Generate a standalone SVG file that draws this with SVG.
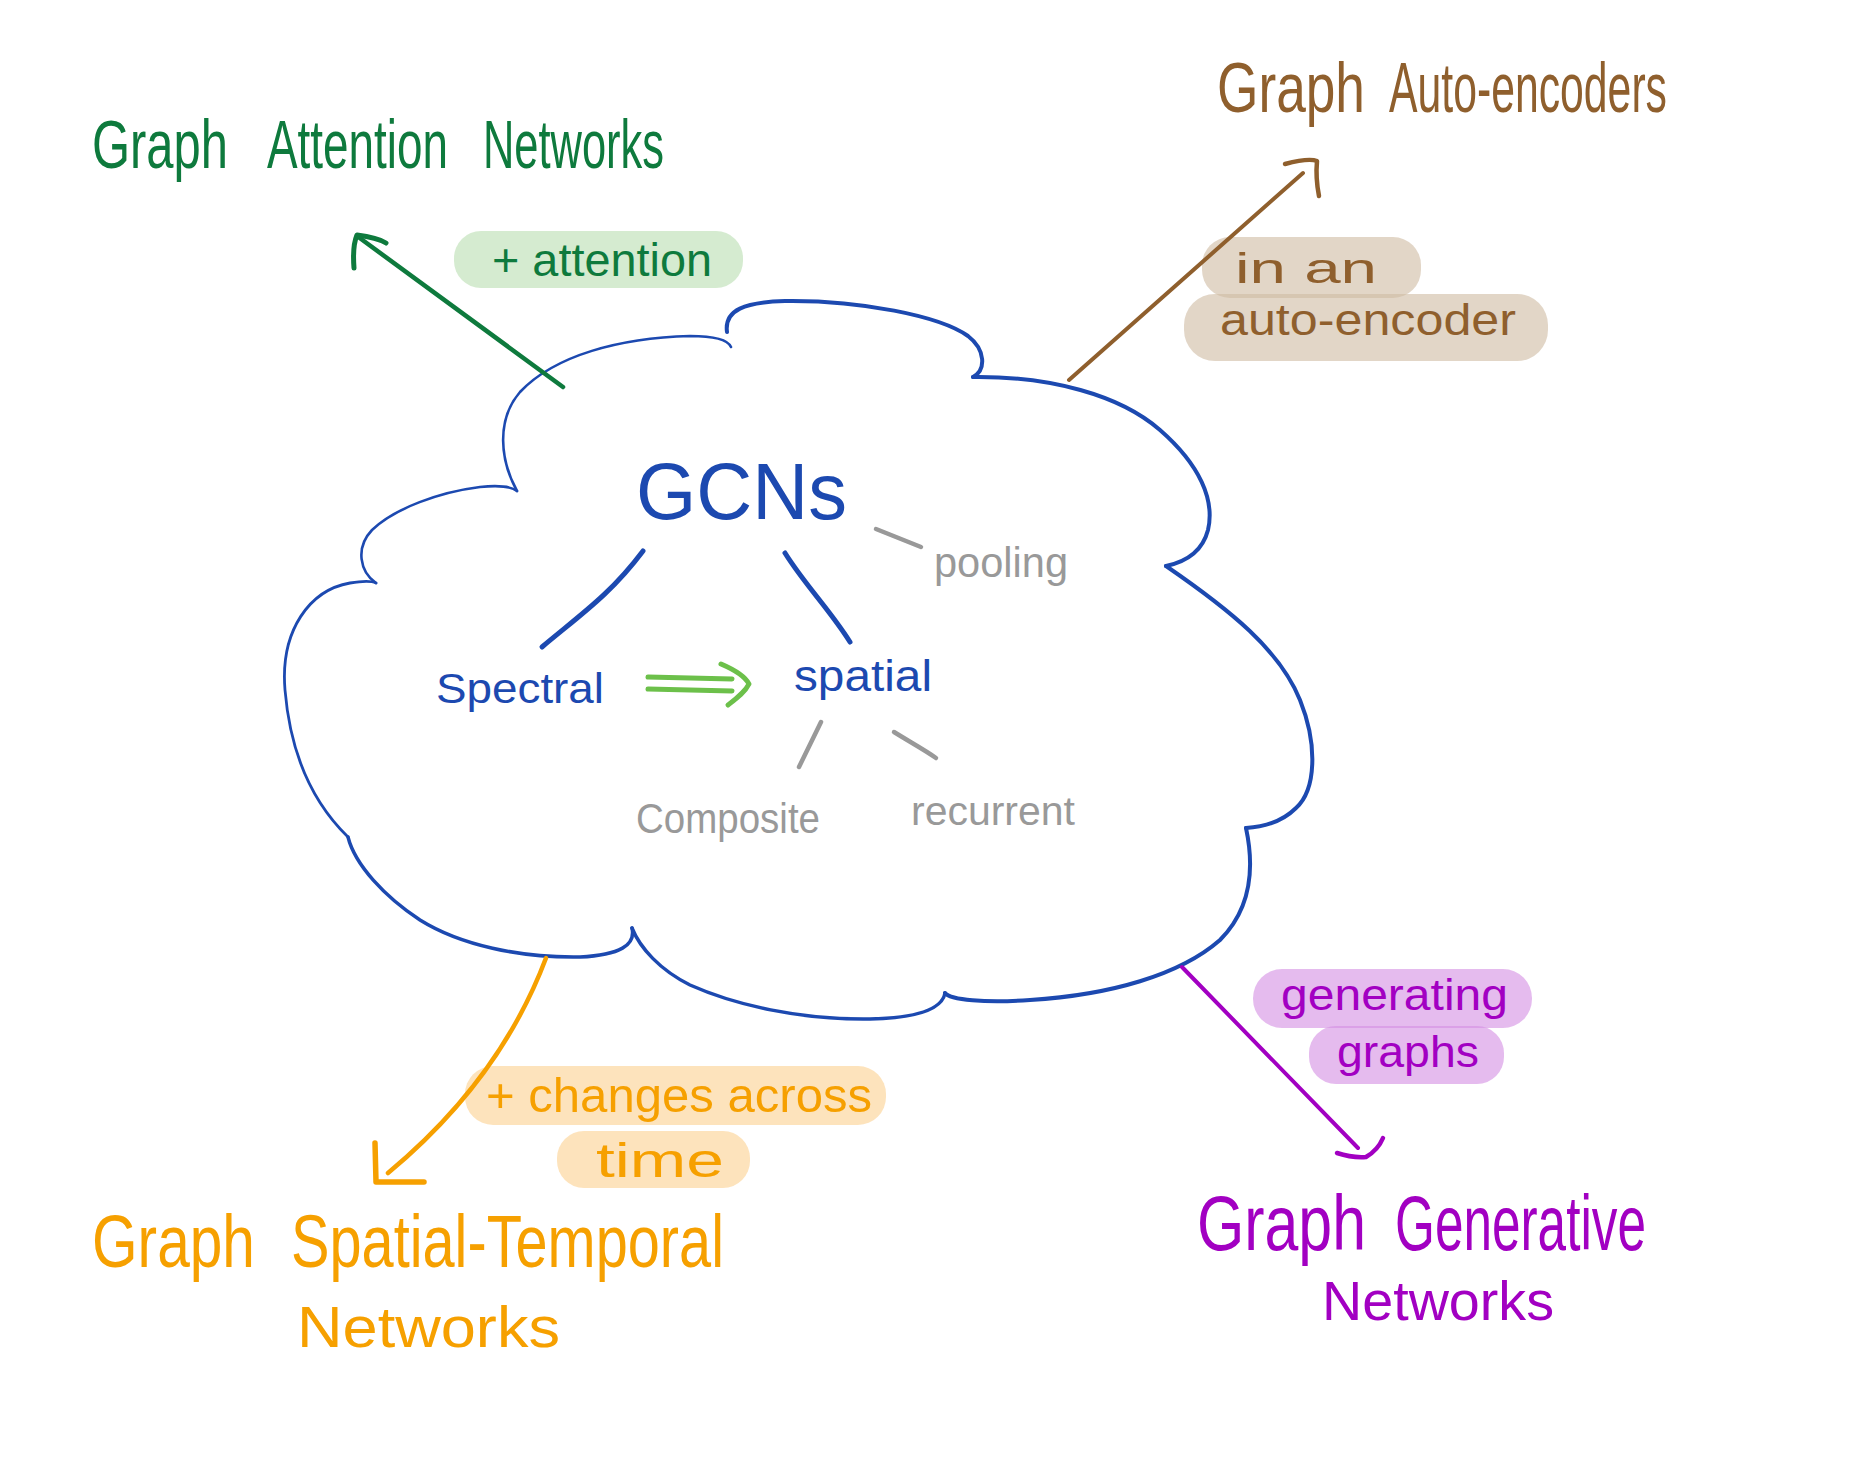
<svg xmlns="http://www.w3.org/2000/svg" width="1857" height="1469" viewBox="0 0 1857 1469">
<style>
text{font-family:"Liberation Sans","Noto Sans",Arial,sans-serif;}
.cloud{fill:none;stroke:#1c49b0;stroke-linecap:round;stroke-linejoin:round}
.blue{fill:#1c49b0}
.gray{fill:#999999}
.stk{fill:none;stroke-linecap:round;stroke-linejoin:round}
.hl{fill-opacity:0.6;stroke:none}
.green{fill:#0e7a3d}.brown{fill:#8f5f2d}.orange{fill:#f6a000}.purple{fill:#a200c2}
</style>
<rect width="1857" height="1469" fill="#ffffff"/>

<g id="node-gcns">
  <g class="cloud">
    <path stroke-width="4" d="M727,332 C724,310 745,302 785,301 C860,300 940,316 968,336 C986,350 986,370 973,377"/>
    <path stroke-width="4" d="M973,377 C1050,376 1120,395 1160,430 C1200,465 1215,500 1208,530 C1202,553 1185,562 1166,566"/>
    <path stroke-width="4" d="M1166,566 C1230,610 1280,650 1300,700 C1318,745 1316,790 1296,808 C1282,822 1262,827 1246,828"/>
    <path stroke-width="4" d="M1246,828 C1255,870 1250,910 1220,940 C1180,975 1110,995 1030,1000 C985,1003 950,1000 945,993"/>
    <path stroke-width="3.5" d="M945,993 C942,1010 915,1018 870,1019 C800,1020 735,1005 690,985 C660,970 640,948 632,928"/>
    <path stroke-width="3.5" d="M632,928 C636,945 620,955 580,957 C520,958 460,945 420,920 C385,897 355,865 348,837"/>
    <path stroke-width="2.8" d="M348,837 C310,800 290,750 285,690 C280,630 310,590 350,583 C362,581 372,581 376,583"/>
    <path stroke-width="2.6" d="M376,583 C360,572 355,548 372,530 C395,508 440,492 480,487 C500,485 512,487 517,491"/>
    <path stroke-width="2.6" d="M517,491 C500,460 496,420 520,392 C555,355 620,338 690,336 C715,336 728,340 731,347"/>
  </g>
  <text class="blue" x="636" y="519" font-size="80" textLength="211" lengthAdjust="spacingAndGlyphs">GCNs</text>
</g>

<g id="node-spectral">
  <text class="blue" x="436" y="703" font-size="42" textLength="168" lengthAdjust="spacingAndGlyphs">Spectral</text>
</g>
<g id="node-spatial">
  <text class="blue" x="794" y="691" font-size="44" textLength="138" lengthAdjust="spacingAndGlyphs">spatial</text>
</g>
<g id="node-pooling">
  <text class="gray" x="934" y="577" font-size="42" textLength="134" lengthAdjust="spacingAndGlyphs">pooling</text>
</g>
<g id="node-composite">
  <text class="gray" x="636" y="833" font-size="42" textLength="184" lengthAdjust="spacingAndGlyphs">Composite</text>
</g>
<g id="node-recurrent">
  <text class="gray" x="911" y="825" font-size="40" textLength="164" lengthAdjust="spacingAndGlyphs">recurrent</text>
</g>

<g id="node-gat">
  <text class="green" font-size="52" transform="matrix(1 0 0 1.3 0 168)"><tspan x="92" y="0" textLength="136" lengthAdjust="spacingAndGlyphs">Graph</tspan> <tspan x="267" y="0" textLength="181" lengthAdjust="spacingAndGlyphs">Attention</tspan> <tspan x="483" y="0" textLength="181" lengthAdjust="spacingAndGlyphs">Networks</tspan></text>
</g>
<g id="node-gae">
  <text class="brown" font-size="52" transform="matrix(1 0 0 1.35 0 112)"><tspan x="1217" y="0" textLength="148" lengthAdjust="spacingAndGlyphs">Graph</tspan> <tspan x="1389" y="0" textLength="278" lengthAdjust="spacingAndGlyphs">Auto-encoders</tspan></text>
</g>
<g id="node-gstn">
  <text class="orange" font-size="60" transform="matrix(1 0 0 1.25 0 1267)"><tspan x="92" y="0" textLength="163" lengthAdjust="spacingAndGlyphs">Graph</tspan> <tspan x="291" y="0" textLength="433" lengthAdjust="spacingAndGlyphs">Spatial-Temporal</tspan></text>
  <text class="orange" x="297" y="1347" font-size="58" textLength="263" lengthAdjust="spacingAndGlyphs">Networks</text>
</g>
<g id="node-ggn">
  <text class="purple" font-size="60" transform="matrix(1 0 0 1.3 0 1250)"><tspan x="1197" y="0" textLength="169" lengthAdjust="spacingAndGlyphs">Graph</tspan> <tspan x="1395" y="0" textLength="251" lengthAdjust="spacingAndGlyphs">Generative</tspan></text>
  <text class="purple" x="1322" y="1320" font-size="56" textLength="232" lengthAdjust="spacingAndGlyphs">Networks</text>
</g>

<g id="connectors">
  <path class="stk" stroke="#1c49b0" stroke-width="5" d="M643,551 C610,595 580,615 542,647"/>
  <path class="stk" stroke="#1c49b0" stroke-width="5" d="M785,553 C805,585 830,610 850,642"/>
  <path class="stk" stroke="#999999" stroke-width="4.5" d="M876,529 L921,547"/>
  <path class="stk" stroke="#999999" stroke-width="4.5" d="M821,722 L799,767"/>
  <path class="stk" stroke="#999999" stroke-width="4.5" d="M894,732 C910,742 925,750 936,758"/>
  <g class="stk" stroke="#6cc04a" stroke-width="5">
    <path d="M648,677 L732,679"/>
    <path d="M648,689 L732,691"/>
    <path d="M721,664 C735,670 745,676 749,684 C745,692 737,698 728,705"/>
  </g>

  <g id="edge-gat">
    <rect class="hl" fill="#b9deb1" x="454" y="231" width="289" height="57" rx="27"/>
    <path class="stk" stroke="#0e7a3d" stroke-width="4.5" d="M563,387 L357,236"/>
    <path class="stk" stroke="#0e7a3d" stroke-width="5" d="M354,268 C353,255 354,242 357,235 C365,236 378,238 386,243"/>
    <text class="green" x="492" y="276" font-size="46" textLength="220" lengthAdjust="spacingAndGlyphs">+ attention</text>
  </g>
  <g id="edge-gae">
    <rect class="hl" fill="#cfbba2" x="1202" y="237" width="219" height="61" rx="28"/>
    <rect class="hl" fill="#cfbba2" x="1184" y="294" width="364" height="67" rx="31"/>
    <path class="stk" stroke="#8f5f2d" stroke-width="4" d="M1069,380 L1303,173"/>
    <path class="stk" stroke="#8f5f2d" stroke-width="4.5" d="M1285,164 C1300,160 1312,159 1317,161 C1316,172 1317,186 1319,196"/>
    <text class="brown" x="1235" y="283" font-size="42" textLength="142" lengthAdjust="spacingAndGlyphs">in an</text>
    <text class="brown" x="1220" y="335" font-size="44" textLength="296" lengthAdjust="spacingAndGlyphs">auto-encoder</text>
  </g>
  <g id="edge-gstn">
    <rect class="hl" fill="#fcd08f" x="465" y="1066" width="421" height="59" rx="28"/>
    <rect class="hl" fill="#fcd08f" x="557" y="1131" width="193" height="57" rx="27"/>
    <path class="stk" stroke="#f6a000" stroke-width="4.5" d="M546,958 Q500,1080 388,1173"/>
    <path class="stk" stroke="#f6a000" stroke-width="5.5" d="M375,1143 L376,1182 L424,1182"/>
    <text class="orange" x="486" y="1112" font-size="48" textLength="386" lengthAdjust="spacingAndGlyphs">+ changes across</text>
    <text class="orange" x="596" y="1177" font-size="48" textLength="128" lengthAdjust="spacingAndGlyphs">time</text>
  </g>
  <g id="edge-ggn">
    <rect class="hl" fill="#d48ee3" x="1253" y="969" width="279" height="59" rx="29"/>
    <rect class="hl" fill="#d48ee3" x="1309" y="1026" width="195" height="58" rx="27"/>
    <path class="stk" stroke="#a200c2" stroke-width="4" d="M1182,967 L1358,1148"/>
    <path class="stk" stroke="#a200c2" stroke-width="4.5" d="M1337,1153 Q1352,1158 1366,1157 Q1378,1150 1383,1138"/>
    <text class="purple" x="1281" y="1010" font-size="44" textLength="227" lengthAdjust="spacingAndGlyphs">generating</text>
    <text class="purple" x="1337" y="1067" font-size="44" textLength="142" lengthAdjust="spacingAndGlyphs">graphs</text>
  </g>
</g>
</svg>
